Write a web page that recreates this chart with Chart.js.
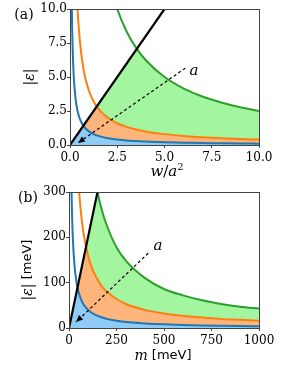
<!DOCTYPE html>
<html>
<head>
<meta charset="utf-8">
<script src="https://cdn.jsdelivr.net/npm/chart.js@4/dist/chart.umd.min.js"></script>
<style>
body { margin: 0; background: #fff; width: 290px; height: 367px; overflow: hidden; position: relative; }
canvas { position: absolute; left: 0; }
#chartA { top: 0; }
#chartB { top: 180px; }
</style>
</head>
<body>
<canvas id="chartA" width="290" height="180"></canvas>
<canvas id="chartB" width="290" height="187"></canvas>
<script>
// panel (a): |eps| vs w/a^2
const xA = [0.05, 0.1, 0.15, 0.2, 0.3, 0.4, 0.5, 0.6, 0.7, 0.8, 1, 1.25, 1.5, 2, 2.5, 3, 3.5, 4, 5, 6, 7, 8, 9, 10];
const blueA = [20, 10, 6.67, 5, 3.33, 2.5, 2, 1.67, 1.43, 1.25, 1, 0.8, 0.67, 0.5, 0.4, 0.33, 0.29, 0.25, 0.2, 0.17, 0.14, 0.125, 0.11, 0.1];
const orangeA = [80, 40, 26.7, 20, 13.3, 10, 8, 6.67, 5.71, 5, 4, 3.2, 2.67, 2, 1.6, 1.33, 1.14, 1, 0.8, 0.67, 0.57, 0.5, 0.44, 0.4];
const greenA = [500, 250, 167, 125, 83.3, 62.5, 50, 41.7, 35.7, 31.3, 25, 20, 16.7, 12.5, 10, 8.33, 7.14, 6.25, 5, 4.17, 3.57, 3.13, 2.78, 2.5];
const lineAx = [0, 5];
const lineAy = [0, 10];
const arrowAx = [6.1, 0.42];
const arrowAy = [5.65, 0.15];
const labelA = [6.56, 5.45];
const ticksA = { x: [0, 10, 2.5], y: [0, 10, 2.5] };

// panel (b): |eps| [meV] vs m [meV]
const xB = [5, 10, 13, 20, 30, 40, 50, 60, 75, 100, 125, 150, 175, 200, 250, 300, 400, 500, 600, 700, 800, 900, 1000];
const blueB = [800, 400, 308, 200, 133, 100, 80, 67, 53, 40, 32, 27, 23, 20, 16, 13, 10, 8, 6.7, 5.7, 5, 4.4, 4];
const orangeB = [3200, 1600, 1231, 800, 533, 400, 320, 267, 213, 160, 128, 107, 91, 80, 64, 53, 40, 32, 27, 23, 20, 18, 16];
const greenB = [9000, 4500, 3460, 2250, 1500, 1125, 900, 750, 600, 450, 360, 300, 257, 225, 178, 148, 110, 86, 72, 61, 53, 47, 43];
const lineBx = [0, 150];
const lineBy = [0, 300];
const arrowBx = [417, 37];
const arrowBy = [165, 13];
const labelB = [468, 181];
const ticksB = { x: [0, 1000, 250], y: [0, 300, 100] };

const SERIF = '"DejaVu Serif", serif';
const SANS = '"DejaVu Sans", sans-serif';

function pts(xs, ys) {
    return xs.map((x, i) => ({ x: x, y: ys[i] }));
}

function drawRuns(c, parts, x, y) {
    let w = 0;
    parts.forEach(p => { c.font = p.font; w += c.measureText(p.t).width; });
    let cx = x - w / 2;
    parts.forEach(p => {
        c.font = p.font;
        c.fillText(p.t, cx, y + (p.dy || 0));
        cx += c.measureText(p.t).width;
    });
}

function panelPlugin(cfg) {
    return {
        id: 'panel',
        afterDatasetsDraw(chart) {
            // arrow head at the end of the dashed arrow
            const c = chart.ctx;
            const m = chart.getDatasetMeta(1);
            const p0 = m.data[0], p1 = m.data[1];
            const ang = Math.atan2(p1.y - p0.y, p1.x - p0.x);
            c.save();
            c.translate(p1.x, p1.y);
            c.rotate(ang);
            c.fillStyle = '#000';
            c.beginPath();
            c.moveTo(0, 0);
            c.lineTo(-7, -3);
            c.lineTo(-7, 3);
            c.closePath();
            c.fill();
            c.restore();
        },
        afterDraw(chart) {
            const c = chart.ctx, a = chart.chartArea;
            const sx = chart.scales.x, sy = chart.scales.y;
            c.save();
            c.strokeStyle = '#444';
            c.lineWidth = 1;
            c.strokeRect(Math.round(a.left) + 0.5, Math.round(a.top) + 0.5,
                Math.round(a.right - a.left), Math.round(a.bottom - a.top));

            c.fillStyle = '#000';
            c.textBaseline = 'middle';
            c.textAlign = 'left';
            // label "a" next to the arrow
            drawRuns(c, [{ t: 'a', font: 'italic 15px ' + SERIF }],
                sx.getPixelForValue(cfg.label[0]), sy.getPixelForValue(cfg.label[1]));
            // panel tag
            drawRuns(c, [{ t: cfg.tag[0], font: '14px ' + SERIF }], cfg.tag[1], cfg.tag[2]);
            // x title
            drawRuns(c, cfg.xTitle, cfg.xPos[0], cfg.xPos[1]);
            // y title (rotated)
            c.translate(cfg.yPos[0], cfg.yPos[1]);
            c.rotate(-Math.PI / 2);
            drawRuns(c, cfg.yTitle, 0, 0);
            c.restore();
        }
    };
}

function makeChart(id, d, cfg) {
    const ctx = document.getElementById(id).getContext('2d');
    const axis = (lim, fmt, pad, fit) => ({
        type: 'linear',
        min: lim[0],
        max: lim[1],
        ticks: {
            stepSize: lim[2],
            autoSkip: false,
            maxRotation: 0,
            padding: pad,
            color: '#000',
            font: { family: SERIF, size: 12 },
            callback: fmt
        },
        grid: { drawOnChartArea: false, drawTicks: true, tickLength: 3, color: '#444' },
        border: { display: false },
        afterFit: fit
    });
    return new Chart(ctx, {
        type: 'line',
        data: {
            datasets: [
                {
                    label: 'bound',
                    data: pts(d.lineX, d.lineY),
                    borderColor: '#000',
                    borderWidth: 2.2,
                    backgroundColor: '#fff',
                    fill: 'end'
                },
                {
                    label: 'arrow',
                    data: pts(d.arrowX, d.arrowY),
                    borderColor: '#000',
                    borderWidth: 1.2,
                    borderDash: [3, 2.5],
                    fill: false
                },
                {
                    label: 'blue',
                    data: pts(d.x, d.blue),
                    borderColor: '#1f77b4',
                    borderWidth: 2,
                    backgroundColor: '#8ecbf5',
                    fill: 'origin'
                },
                {
                    label: 'orange',
                    data: pts(d.x, d.orange),
                    borderColor: '#ff7f0e',
                    borderWidth: 2,
                    backgroundColor: '#fdb57c',
                    fill: 2
                },
                {
                    label: 'green',
                    data: pts(d.x, d.green),
                    borderColor: '#2ca02c',
                    borderWidth: 2,
                    backgroundColor: '#a4f5a0',
                    fill: 3
                }
            ]
        },
        options: {
            responsive: false,
            animation: false,
            devicePixelRatio: 1,
            layout: { padding: { top: cfg.pad[0], right: cfg.pad[1], bottom: 0, left: 0 } },
            elements: {
                point: { radius: 0, hoverRadius: 0 },
                line: { cubicInterpolationMode: 'monotone' }
            },
            plugins: {
                legend: { display: false },
                tooltip: { enabled: false },
                filler: { drawTime: 'beforeDatasetsDraw' }
            },
            scales: {
                x: axis(d.ticks.x, cfg.fmt, 3, s => { s.height = cfg.xh; }),
                y: axis(d.ticks.y, cfg.fmt, 0, s => { s.width = cfg.yw; })
            }
        },
        plugins: [panelPlugin(cfg)]
    });
}

makeChart('chartA', {
    x: xA, blue: blueA, orange: orangeA, green: greenA,
    lineX: lineAx, lineY: lineAy, arrowX: arrowAx, arrowY: arrowAy, ticks: ticksA
}, {
    pad: [9, 31], xh: 35, yw: 70,
    fmt: v => v.toFixed(1),
    label: labelA,
    tag: ['(a)', 24, 15],
    xTitle: [
        { t: 'w', font: 'italic 15px ' + SERIF },
        { t: '/', font: '15px ' + SERIF },
        { t: 'a', font: 'italic 15px ' + SERIF },
        { t: '2', font: '10px ' + SERIF, dy: -5 }
    ],
    xPos: [167, 172],
    yTitle: [
        { t: '|', font: '14px ' + SERIF },
        { t: 'ε', font: 'italic 14px ' + SERIF },
        { t: '|', font: '14px ' + SERIF }
    ],
    yPos: [30, 77]
});

makeChart('chartB', {
    x: xB, blue: blueB, orange: orangeB, green: greenB,
    lineX: lineBx, lineY: lineBy, arrowX: arrowBx, arrowY: arrowBy, ticks: ticksB
}, {
    pad: [12, 31], xh: 39, yw: 69,
    fmt: v => String(v),
    label: labelB,
    tag: ['(b)', 28, 18],
    xTitle: [
        { t: 'm', font: 'italic 14px ' + SERIF },
        { t: ' [meV]', font: '13px ' + SANS }
    ],
    xPos: [163, 176],
    yTitle: [
        { t: '|', font: '14px ' + SERIF },
        { t: 'ε', font: 'italic 14px ' + SERIF },
        { t: '|', font: '14px ' + SERIF },
        { t: ' [meV]', font: '13px ' + SANS }
    ],
    yPos: [28, 90]
});
</script>
</body>
</html>
